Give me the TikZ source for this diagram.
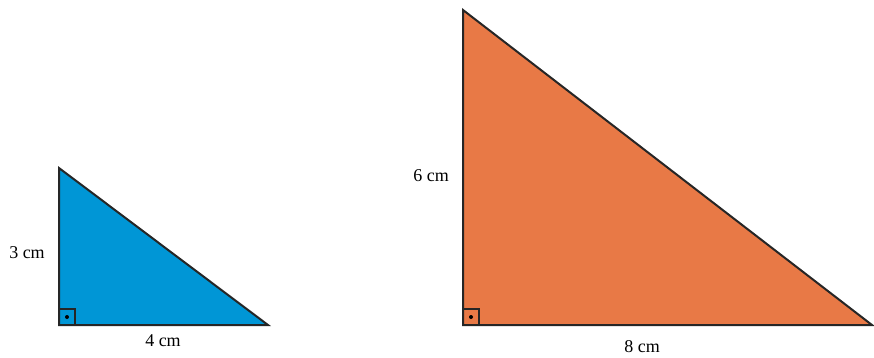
\documentclass[tikz,border=0pt]{standalone}
\usepackage{fontspec}
\setmainfont{Liberation Serif}
\usetikzlibrary{calc}
\definecolor{smallblue}{RGB}{0,150,214}
\definecolor{bigorange}{RGB}{232,121,70}
\tikzset{
  side/.style={line width=2pt, draw=black!85, line join=miter},
  rightmark/.style={line width=1.2pt, draw=black!85},
  len/.style={font=\fontsize{18}{20}\selectfont, inner sep=0pt}
}

\begin{document}
\begin{tikzpicture}[x=1pt, y=-1pt]
  \useasboundingbox (0,0) rectangle (874,357);
  % small triangle
  \coordinate (sA) at (59,325);
  \coordinate (sB) at (268,325);
  \coordinate (sC) at (59,168);
  \filldraw[side, fill=smallblue] (sA) -- (sB) -- (sC) -- cycle;
  \draw[rightmark] (sA) rectangle ++(16,-16);
  \fill ($(sA)+(8,-8)$) circle (2);
  \node[len] (s3) at (27,253) {3 cm};
  \node[len] (s4) at (163,341) {4 cm};
  % large triangle
  \coordinate (bA) at (463,325);
  \coordinate (bB) at (872,325);
  \coordinate (bC) at (463,10);
  \filldraw[side, fill=bigorange] (bA) -- (bB) -- (bC) -- cycle;
  \draw[rightmark] (bA) rectangle ++(16,-16);
  \fill ($(bA)+(8,-8)$) circle (2);
  \node[len] (b6) at (431,176) {6 cm};
  \node[len] (b8) at (642,347) {8 cm};
\end{tikzpicture}
\end{document}
